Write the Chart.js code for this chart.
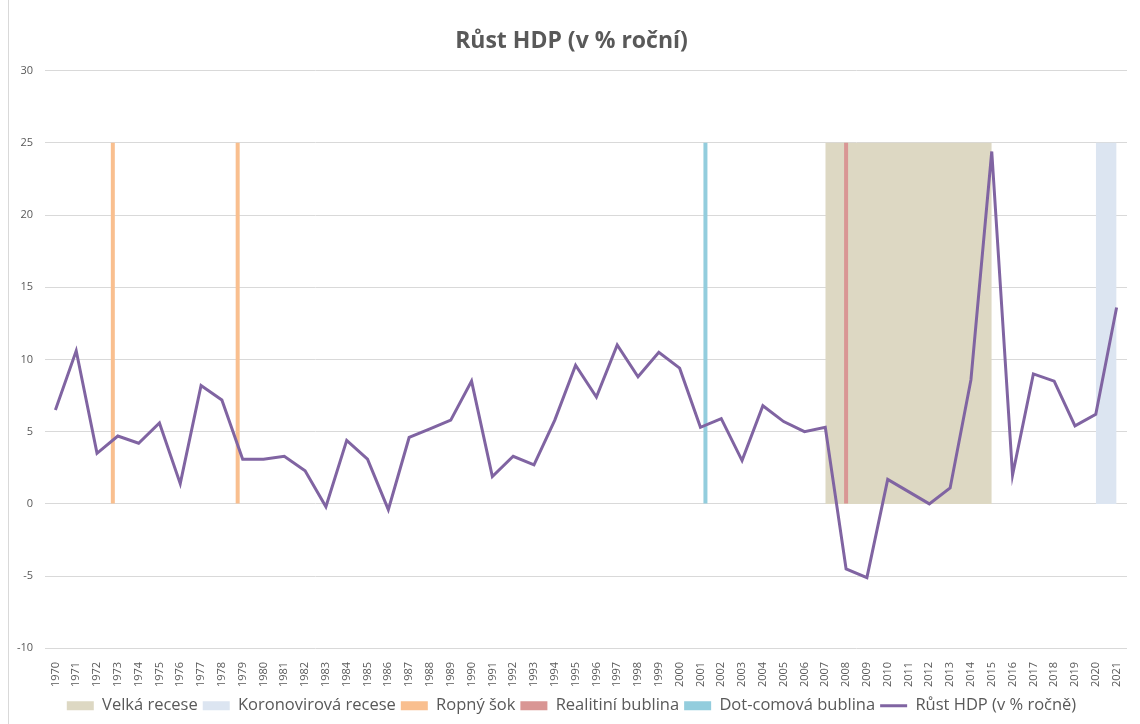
<!DOCTYPE html>
<html>
<head>
<meta charset="utf-8">
<script src="https://cdn.jsdelivr.net/npm/chart.js@4"></script>
<style>
    html, body { margin: 0; padding: 0; background: #fff; }
    #wrap { position: relative; width: 1140px; height: 724px; }
    #frame { position: absolute; left: 8px; top: 0; width: 1px; height: 724px; background: #d9d9d9; }
</style>
</head>
<body>
<div id="wrap">
    <div id="frame"></div>
    <canvas id="gdpChart" width="1140" height="724"></canvas>
</div>
<script>
// DATA -----------------------------------------------------------------------

const years = ['1970','1971','1972','1973','1974','1975','1976','1977','1978','1979',
    '1980','1981','1982','1983','1984','1985','1986','1987','1988','1989',
    '1990','1991','1992','1993','1994','1995','1996','1997','1998','1999',
    '2000','2001','2002','2003','2004','2005','2006','2007','2008','2009',
    '2010','2011','2012','2013','2014','2015','2016','2017','2018','2019',
    '2020','2021']

// annual GDP growth, %
const gdpGrowth = [6.5, 10.6, 3.5, 4.7, 4.2, 5.6, 1.4, 8.2, 7.2, 3.1,
    3.1, 3.3, 2.3, -0.2, 4.4, 3.1, -0.4, 4.6, 5.2, 5.8,
    8.5, 1.9, 3.3, 2.7, 5.8, 9.6, 7.4, 11.0, 8.8, 10.5,
    9.4, 5.3, 5.9, 3.0, 6.8, 5.7, 5.0, 5.3, -4.5, -5.1,
    1.7, 0.85, 0.0, 1.1, 8.6, 24.4, 2.0, 9.0, 8.5, 5.4,
    6.2, 13.6]

// crisis markers (height 25 where the event applies)
const greatRecessionYears = ['2007','2008','2009','2010','2011','2012','2013','2014','2015']
const covidYears = ['2020','2021']
const oilShockYears = ['1973','1979']
const housingBubbleYears = ['2008']
const dotcomYears = ['2001']
const markerHeight = 25

// SETTINGS -------------------------------------------------------------------

const colors = {
    recession: '#DDD8C3',
    covid: '#DCE5F1',
    oil: '#F9BF8F',
    housing: '#D99694',
    dotcom: '#93CDDD',
    gdp: '#8064A2',
    text: '#595959',
    grid: '#D9D9D9'
}
const fontFamily = '"Open Sans", "Liberation Sans", sans-serif'

// HELPERS --------------------------------------------------------------------

function markerSeries(activeYears) {
    return years.map((y) => activeYears.includes(y) ? markerHeight : null)
}

function areaDataset(label, activeYears, color) {
    return {
        type: 'line',
        label: label,
        data: markerSeries(activeYears),
        backgroundColor: color,
        borderColor: color,
        borderWidth: 0,
        pointRadius: 0,
        fill: 'origin',
        spanGaps: false,
        order: 3
    }
}

function barDataset(label, activeYears, color) {
    return {
        type: 'bar',
        label: label,
        data: markerSeries(activeYears),
        backgroundColor: color,
        borderWidth: 0,
        categoryPercentage: 0.72,
        barPercentage: 0.8,
        order: 2
    }
}

// CHART ----------------------------------------------------------------------

new Chart(document.getElementById('gdpChart'), {
    data: {
        labels: years,
        datasets: [
            areaDataset('Velká recese', greatRecessionYears, colors.recession),
            areaDataset('Koronovirová recese', covidYears, colors.covid),
            barDataset('Ropný šok', oilShockYears, colors.oil),
            barDataset('Realitiní bublina', housingBubbleYears, colors.housing),
            barDataset('Dot-comová bublina', dotcomYears, colors.dotcom),
            {
                type: 'line',
                label: 'Růst HDP (v % ročně)',
                data: gdpGrowth,
                borderColor: colors.gdp,
                backgroundColor: colors.gdp,
                borderWidth: 3,
                pointRadius: 0,
                tension: 0,
                fill: false,
                order: 0
            }
        ]
    },
    options: {
        responsive: false,
        animation: false,
        layout: {
            padding: {left: 16, right: 13, top: 24, bottom: 0}
        },
        plugins: {
            title: {
                display: true,
                text: 'Růst HDP (v % roční)',
                color: colors.text,
                font: {family: fontFamily, size: 23, weight: 'bold'},
                padding: {top: 4, bottom: 15}
            },
            legend: {
                position: 'bottom',
                labels: {
                    color: colors.text,
                    font: {family: fontFamily, size: 16.5},
                    usePointStyle: true,
                    pointStyleWidth: 27,
                    boxHeight: 9,
                    padding: 5,
                    sort: (a, b) => a.datasetIndex - b.datasetIndex,
                    generateLabels: (chart) => {
                        const items = Chart.defaults.plugins.legend.labels.generateLabels(chart)
                        items.forEach((item) => {
                            const ds = chart.data.datasets[item.datasetIndex]
                            item.pointStyle = (ds.label.startsWith('Růst')) ? 'line' : 'rect'
                            if (item.pointStyle === 'rect') {
                                item.lineWidth = 0
                                item.fillStyle = ds.backgroundColor
                            }
                        })
                        return items
                    }
                }
            },
            tooltip: {enabled: false}
        },
        scales: {
            x: {
                offset: true,
                grid: {display: false},
                border: {display: false},
                ticks: {
                    color: colors.text,
                    font: {family: fontFamily, size: 11},
                    minRotation: 90,
                    maxRotation: 90,
                    autoSkip: false,
                    padding: 5.5
                }
            },
            y: {
                min: -10,
                max: 30,
                afterFit: (scale) => { scale.width = 29 },
                grid: {color: colors.grid, lineWidth: 1, drawTicks: false},
                border: {display: false},
                ticks: {
                    stepSize: 5,
                    color: colors.text,
                    font: {family: fontFamily, size: 11},
                    padding: 12
                }
            }
        }
    }
});
</script>
</body>
</html>
